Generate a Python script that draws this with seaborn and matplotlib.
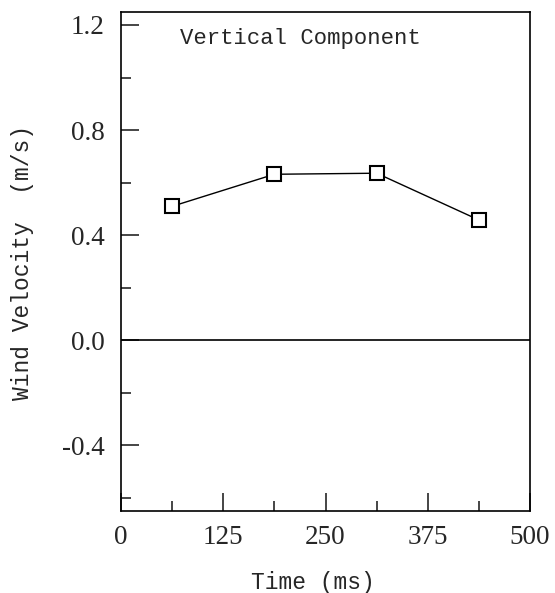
import pandas as pd
import matplotlib.pyplot as plt
import seaborn as sns
from matplotlib.ticker import MultipleLocator

# data
time_ms = [62.5, 187.5, 312.5, 437.5]
velocity = [0.51, 0.632, 0.636, 0.458]
x_ticks = [0, 125, 250, 375, 500]
y_ticks = [-0.4, 0.0, 0.4, 0.8, 1.2]

df = pd.DataFrame({'Time': time_ms, 'Velocity': velocity})

sns.set_style("ticks")
plt.rcParams['font.family'] = ['Liberation Serif', 'DejaVu Serif']

fig = plt.figure(figsize=(5.55, 5.93), dpi=100)
ax = fig.add_axes([0.218, 0.138, 0.737, 0.842])

# zero reference line
ax.axhline(0, color='black', lw=1.2, zorder=1)

sns.lineplot(data=df, x='Time', y='Velocity', ax=ax, color='black', lw=1,
             marker='s', markersize=10, markerfacecolor='white',
             markeredgecolor='black', markeredgewidth=1.5, zorder=3)

ax.set_xlim(0, 500)
ax.set_ylim(-0.65, 1.25)
ax.set_xticks(x_ticks)
ax.set_xticklabels([str(t) for t in x_ticks])
ax.set_yticks(y_ticks)
ax.set_yticklabels([f'{t:.1f}' for t in y_ticks])
ax.xaxis.set_minor_locator(MultipleLocator(62.5))
ax.yaxis.set_minor_locator(MultipleLocator(0.2))
ax.tick_params(which='major', direction='in', length=13, width=1.2, labelsize=19.5)
ax.tick_params(which='minor', direction='in', length=7, width=1.2)
ax.tick_params(axis='y', pad=12)
ax.tick_params(axis='x', pad=10)

for s in ax.spines.values():
    s.set_visible(True)
    s.set_color('black')
    s.set_linewidth(1.2)

mono = ['Liberation Mono', 'DejaVu Sans Mono']
ax.set_xlabel('Time (ms)', family=mono, fontsize=16.5, va='center')
ax.set_ylabel('Wind Velocity  (m/s)', family=mono, fontsize=16.5, va='center')
ax.xaxis.set_label_coords(0.47, -0.142)
ax.yaxis.set_label_coords(-0.242, 0.499)
ax.text(0.145, 0.968, 'Vertical Component', transform=ax.transAxes,
        family=mono, fontsize=16, va='top', ha='left')

plt.savefig('out.png', dpi=100)
